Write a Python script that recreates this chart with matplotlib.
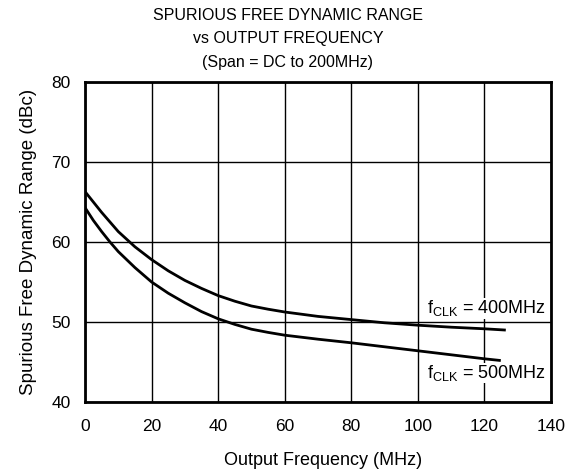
import matplotlib
matplotlib.use("Agg")
import matplotlib.pyplot as plt

plt.rcParams['font.family'] = ['Liberation Sans', 'DejaVu Sans']

# Data
freq_400 = [0, 2.5, 5, 7.5, 10, 15, 20, 25, 30, 35, 40, 45, 50, 55, 60, 70, 80, 90, 100, 110, 120, 126]
sfdr_400 = [66.3, 65.0, 63.7, 62.5, 61.3, 59.4, 57.8, 56.4, 55.2, 54.2, 53.3, 52.6, 52.0, 51.6, 51.25,
            50.7, 50.3, 49.9, 49.6, 49.35, 49.15, 49.0]
freq_500 = [0, 2.5, 5, 7.5, 10, 15, 20, 25, 30, 35, 40, 45, 50, 55, 60, 70, 80, 90, 100, 110, 120, 124.5]
sfdr_500 = [64.3, 62.7, 61.3, 60.0, 58.8, 56.8, 55.0, 53.6, 52.4, 51.3, 50.4, 49.7, 49.1, 48.7, 48.35,
            47.85, 47.4, 46.9, 46.4, 45.9, 45.4, 45.2]
xticks = [0, 20, 40, 60, 80, 100, 120, 140]
yticks = [40, 50, 60, 70, 80]

fig = plt.figure(figsize=(5.76, 4.7), dpi=100)
ax = fig.add_axes([0.1476, 0.1447, 0.8090, 0.6808])

ax.plot(freq_400, sfdr_400, color='black', lw=2.0, zorder=3, solid_joinstyle='round')
ax.plot(freq_500, sfdr_500, color='black', lw=2.0, zorder=3, solid_joinstyle='round')

ax.set_xlim(0, 140)
ax.set_ylim(40, 80)
ax.set_xticks(xticks)
ax.set_yticks(yticks)
ax.grid(True, color='black', lw=1.0)
ax.tick_params(length=0, labelsize=12.5)
ax.tick_params(axis='x', pad=12.5)
ax.tick_params(axis='y', pad=10.5)
for s in ax.spines.values():
    s.set_linewidth(2.0)
    s.set_zorder(5)

ax.text(102.6, 51.1, r'f$_{\mathregular{CLK}}$ = 400MHz', fontsize=13, va='baseline', ha='left',
        bbox=dict(facecolor='white', edgecolor='none', pad=0.3), zorder=4)
ax.text(102.6, 43.0, r'f$_{\mathregular{CLK}}$ = 500MHz', fontsize=13, va='baseline', ha='left',
        bbox=dict(facecolor='white', edgecolor='none', pad=0.3), zorder=4)

ax.set_xlabel('Output Frequency (MHz)', fontsize=13)
ax.xaxis.set_label_coords(0.51, -0.155)
ax.set_ylabel('Spurious Free Dynamic Range (dBc)', fontsize=13.5, labelpad=10)
fig.text(0.5, 1 - 15 / 470, 'SPURIOUS FREE DYNAMIC RANGE', ha='center', va='center', fontsize=11.5)
fig.text(0.5, 1 - 39 / 470, 'vs OUTPUT FREQUENCY', ha='center', va='center', fontsize=11.5)
fig.text(0.5, 1 - 62 / 470, '(Span = DC to 200MHz)', ha='center', va='center', fontsize=11.5)

fig.savefig('out.png', dpi=100)
